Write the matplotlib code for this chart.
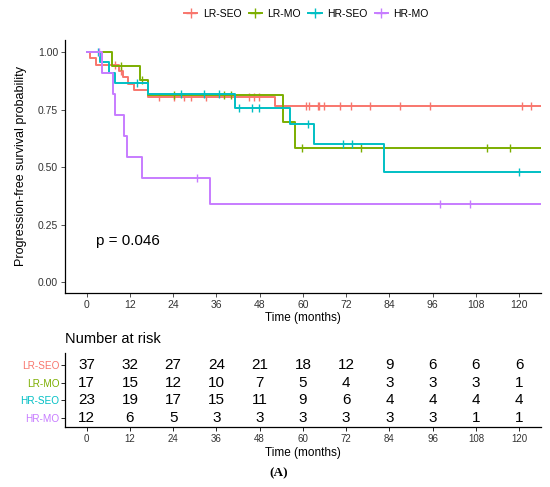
import numpy as np
import matplotlib
matplotlib.use('Agg')
import matplotlib.pyplot as plt
from matplotlib.lines import Line2D

plt.rcParams['font.family'] = ['Liberation Sans', 'DejaVu Sans']

groups = ["LR-SEO", "LR-MO", "HR-SEO", "HR-MO"]
colors = ["#F8766D", "#7CAE00", "#00BFC4", "#C77CFF"]

# step curves: event times (months) and survival after each step
lr_seo_t = [0, 1.0, 2.7, 8.9, 10.1, 11.4, 13.1, 17.0, 52.4, 126]
lr_seo_s = [1.0, 0.973, 0.946, 0.918, 0.890, 0.862, 0.835, 0.807, 0.764, 0.764]
lr_mo_t = [0, 7.0, 14.7, 17.0, 54.6, 57.7, 126]
lr_mo_s = [1.0, 0.941, 0.878, 0.815, 0.698, 0.582, 0.582]
hr_seo_t = [0, 3.8, 6.3, 8.0, 17.1, 41.2, 56.3, 63.2, 82.4, 126]
hr_seo_s = [1.0, 0.955, 0.909, 0.864, 0.816, 0.758, 0.689, 0.600, 0.478, 0.478]
hr_mo_t = [0, 4.3, 7.3, 8.0, 10.5, 11.2, 15.4, 34.3, 126]
hr_mo_s = [1.0, 0.909, 0.818, 0.727, 0.636, 0.545, 0.455, 0.341, 0.341]

# censored times
lr_seo_c = [7.8, 9.5, 20.1, 24.2, 27.0, 28.9, 33.0, 45.1, 46.5, 47.9, 60.9, 61.6,
            64.2, 64.6, 65.8, 70.2, 73.3, 78.6, 86.9, 95.3, 120.8, 123.3]
lr_mo_c = [9.5, 15.4, 24.2, 38.2, 40.0, 59.8, 76.2, 111.0, 117.5]
hr_seo_c = [3.1, 14.1, 26.1, 32.6, 36.6, 42.3, 45.9, 47.9, 61.4, 71.1, 73.7, 120.1]
hr_mo_c = [3.3, 30.7, 98.0, 106.5]

curves_t = [lr_seo_t, lr_mo_t, hr_seo_t, hr_mo_t]
curves_s = [lr_seo_s, lr_mo_s, hr_seo_s, hr_mo_s]
censors = [lr_seo_c, lr_mo_c, hr_seo_c, hr_mo_c]

risk_times = [0, 12, 24, 36, 48, 60, 72, 84, 96, 108, 120]
risk_lr_seo = [37, 32, 27, 24, 21, 18, 12, 9, 6, 6, 6]
risk_lr_mo = [17, 15, 12, 10, 7, 5, 4, 3, 3, 3, 1]
risk_hr_seo = [23, 19, 17, 15, 11, 9, 6, 4, 4, 4, 4]
risk_hr_mo = [12, 6, 5, 3, 3, 3, 3, 3, 3, 1, 1]
risk = [risk_lr_seo, risk_lr_mo, risk_hr_seo, risk_hr_mo]

p_text = "p = 0.046"

fig = plt.figure(figsize=(5.5, 4.87), dpi=100)

# main survival plot
ax = fig.add_axes([0.1182, 0.399, 0.865, 0.519])
for t, s, c, col in zip(curves_t, curves_s, censors, colors):
    ax.step(t, s, where='post', color=col, lw=1.4)
    idx = np.searchsorted(t, c, side='right') - 1
    ax.plot(c, np.array(s)[idx], ls='none', marker='|', ms=6, mew=1.0, color=col)

ax.set_xlim(-6, 126)
ax.set_ylim(-0.045, 1.053)
ax.set_xticks(risk_times)
ax.set_yticks([0, 0.25, 0.5, 0.75, 1.0])
ax.set_yticklabels(["0.00", "0.25", "0.50", "0.75", "1.00"])
ax.tick_params(labelsize=7.5, length=3, width=0.6, pad=2, colors='#333333')
ax.spines['top'].set_visible(False)
ax.spines['right'].set_visible(False)
ax.spines['left'].set_linewidth(0.9)
ax.spines['bottom'].set_linewidth(0.9)
ax.set_xlabel("Time (months)", fontsize=8.5, labelpad=2)
ax.set_ylabel("Progression-free survival probability", fontsize=9, labelpad=8)
ax.text(2.5, 0.18, p_text, fontsize=11, va='center', ha='left')

handles = [Line2D([0], [0], color=col, lw=1.4, marker='+', ms=7, mew=1.0) for col in colors]
fig.legend(handles, groups, loc='center', bbox_to_anchor=(0.557, 0.971), ncol=4,
           frameon=False, fontsize=7.5, handlelength=1.3, columnspacing=0.7, handletextpad=0.5)

# risk table
rt = fig.add_axes([0.1182, 0.1232, 0.865, 0.152])
ypos = [4, 3, 2, 1]
for row, y in zip(risk, ypos):
    for xt, n in zip(risk_times, row):
        rt.text(xt, y, str(n), ha='center', va='center', fontsize=11)
rt.set_xlim(-6, 126)
rt.set_ylim(0.49, 4.68)
rt.set_xticks(risk_times)
rt.set_yticks(ypos)
rt.set_yticklabels(groups)
for lab, col in zip(rt.get_yticklabels(), colors):
    lab.set_color(col)
rt.tick_params(axis='y', labelsize=7.2, length=3, width=0.6, pad=1)
rt.tick_params(axis='x', labelsize=7, length=3, width=0.6, pad=2, labelcolor='#333333')
rt.spines['top'].set_visible(False)
rt.spines['right'].set_visible(False)
rt.spines['left'].set_linewidth(0.9)
rt.spines['bottom'].set_linewidth(0.9)
rt.set_xlabel("Time (months)", fontsize=8.5, labelpad=2)

fig.text(0.1182, 0.304, "Number at risk", fontsize=10.5, va='center', ha='left')
fig.text(0.507, 0.029, "(A)", fontsize=9.5, ha='center', va='center',
         family=['Liberation Serif', 'DejaVu Serif'], fontweight='bold')

fig.savefig("out.png", dpi=100)
